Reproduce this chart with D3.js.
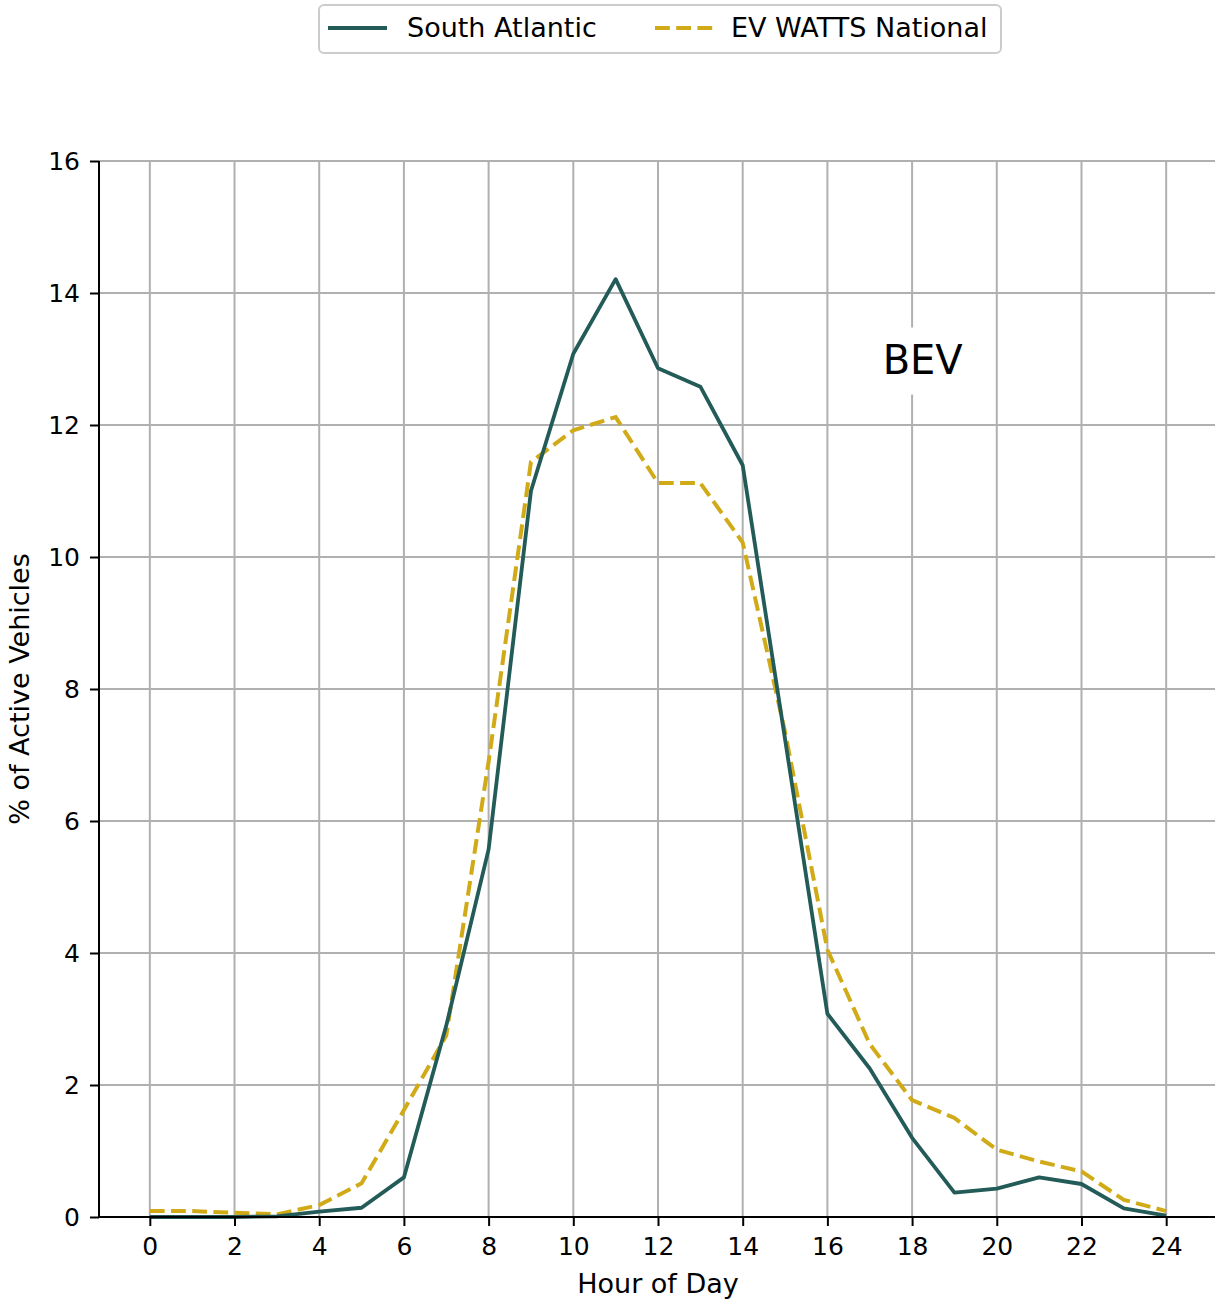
<!DOCTYPE html>
<html>
<head>
<meta charset="utf-8">
<script src="https://cdn.jsdelivr.net/npm/d3@7"></script>
<style>
  html, body { margin: 0; padding: 0; background: #fff; }
  svg { display: block; font-family: "DejaVu Sans", sans-serif; }
</style>
</head>
<body>
<svg id="chart" width="1215" height="1301"></svg>
<script>
// ---- data ----
const hours = [0,1,2,3,4,5,6,7,8,9,10,11,12,13,14,15,16,17,18,19,20,21,22,23,24];
const southAtlantic = [0.0,0.0,0.0,0.01,0.08,0.14,0.6,2.9,5.57,11.0,13.08,14.21,12.86,12.58,11.39,7.24,3.08,2.25,1.2,0.37,0.43,0.6,0.5,0.13,0.02];
const evWattsNational = [0.09,0.09,0.065,0.04,0.18,0.51,1.62,2.75,6.9,11.44,11.92,12.12,11.12,11.12,10.22,7.35,4.05,2.62,1.77,1.5,1.02,0.84,0.69,0.26,0.09];
const seriesNames = ["South Atlantic", "EV WATTS National"];
const xTicks = [0,2,4,6,8,10,12,14,16,18,20,22,24];
const yTicks = [0,2,4,6,8,10,12,14,16];
const xLabel = "Hour of Day";
const yLabel = "% of Active Vehicles";
const annotation = "BEV";

// ---- layout ----
const colSolid = "#235b58";
const colDash = "#d1aa17";
const pL = 99, pR = 1217, pT = 161, pB = 1217;

const svg = d3.select("#chart");
const x = d3.scaleLinear().domain([-1.2, 25.2]).range([pL, pR]);
const y = d3.scaleLinear().domain([0, 16]).range([pB, pT]);

// grid
const grid = svg.append("g");
grid.selectAll("line.v").data(xTicks).join("line").attr("class", "v")
  .attr("x1", d => x(d)).attr("x2", d => x(d))
  .attr("y1", pT).attr("y2", pB)
  .attr("stroke", "#b0b0b0").attr("stroke-width", 2);
grid.selectAll("line.h").data(yTicks).join("line").attr("class", "h")
  .attr("x1", pL).attr("x2", pR)
  .attr("y1", d => y(d)).attr("y2", d => y(d))
  .attr("stroke", "#b0b0b0").attr("stroke-width", 2);

// BEV annotation with white box
const annX = x(18.25), annY = y(12.78);
const ann = svg.append("g");
ann.append("rect")
  .attr("x", annX - 50).attr("y", annY - 46)
  .attr("width", 100).attr("height", 67)
  .attr("fill", "#fff");
ann.append("text")
  .attr("x", annX).attr("y", annY)
  .attr("text-anchor", "middle")
  .attr("font-size", 40)
  .attr("fill", "#000")
  .text(annotation);

// lines
const line = d3.line().x((d, i) => x(hours[i])).y(d => y(d));
svg.append("path").datum(evWattsNational)
  .attr("d", line).attr("fill", "none")
  .attr("stroke", colDash).attr("stroke-width", 4)
  .attr("stroke-dasharray", "14.8,6.4");
svg.append("path").datum(southAtlantic)
  .attr("d", line).attr("fill", "none")
  .attr("stroke", colSolid).attr("stroke-width", 3.8)
  .attr("stroke-linejoin", "round");

// axes
const xAxis = d3.axisBottom(x).tickValues(xTicks).tickSize(9).tickPadding(11).tickFormat(d3.format("d"));
const yAxis = d3.axisLeft(y).tickValues(yTicks).tickSize(9).tickPadding(10).tickFormat(d3.format("d"));

const gx = svg.append("g").attr("transform", `translate(0,${pB})`).call(xAxis);
const gy = svg.append("g").attr("transform", `translate(${pL},0)`).call(yAxis);
[gx, gy].forEach(g => {
  g.select(".domain").attr("stroke", "#000").attr("stroke-width", 2);
  g.selectAll(".tick line").attr("stroke", "#000").attr("stroke-width", 2);
  g.selectAll(".tick text").attr("fill", "#000").attr("font-size", 25)
    .attr("font-family", "DejaVu Sans, sans-serif");
});
gx.select(".domain").attr("d", `M${pL},0H${pR}`);
gy.select(".domain").attr("d", `M0,${pB}V${pT}`);

// axis labels
svg.append("text").attr("x", (pL + pR) / 2).attr("y", 1293)
  .attr("text-anchor", "middle").attr("font-size", 27).attr("fill", "#000")
  .text(xLabel);
svg.append("text").attr("transform", `translate(29,${(pT + pB) / 2}) rotate(-90)`)
  .attr("text-anchor", "middle").attr("font-size", 27).attr("fill", "#000")
  .text(yLabel);

// legend
const lg = svg.append("g");
lg.append("rect").attr("x", 319).attr("y", 5).attr("width", 682).attr("height", 48)
  .attr("rx", 5).attr("fill", "#fff").attr("stroke", "#cccccc").attr("stroke-width", 2);
lg.append("line").attr("x1", 328).attr("x2", 387).attr("y1", 28).attr("y2", 28)
  .attr("stroke", colSolid).attr("stroke-width", 3.8);
lg.append("text").attr("x", 407).attr("y", 37).attr("font-size", 27).attr("fill", "#000")
  .text(seriesNames[0]);
lg.append("line").attr("x1", 655).attr("x2", 714).attr("y1", 28).attr("y2", 28)
  .attr("stroke", colDash).attr("stroke-width", 4).attr("stroke-dasharray", "14.8,6.4");
lg.append("text").attr("x", 731).attr("y", 37).attr("font-size", 27).attr("fill", "#000")
  .text(seriesNames[1]);
</script>
</body>
</html>
